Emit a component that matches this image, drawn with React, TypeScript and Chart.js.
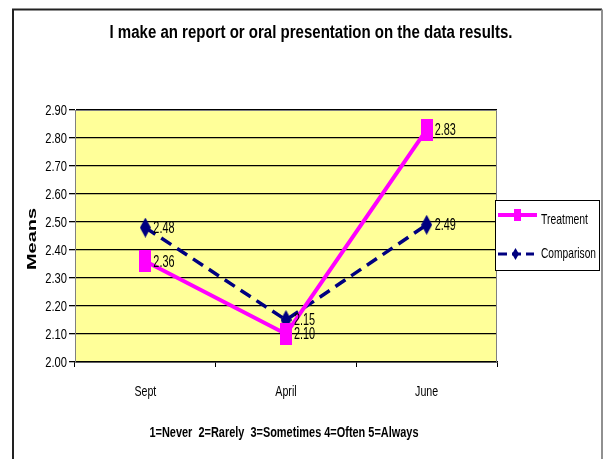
import React, { useEffect, useRef } from "react";
import { Chart, registerables } from "chart.js";
Chart.register(...registerables);

const categories = ["Sept", "April", "June"];
const treatment = [2.36, 2.1, 2.83];
const comparison = [2.48, 2.15, 2.49];
const yTickValues = [2.0, 2.1, 2.2, 2.3, 2.4, 2.5, 2.6, 2.7, 2.8, 2.9];
const seriesNames = ["Treatment", "Comparison"];
const titleText = "I make an report or oral presentation on the data results.";
const yTitle = "Means";
const xTitle = "1=Never  2=Rarely  3=Sometimes 4=Often 5=Always";

const FONT = '"Liberation Sans", Arial, sans-serif';
const MAGENTA = "#FF00FF";
const NAVY = "#000080";

function makeRect(w: number, h: number, color: string) {
  const c = document.createElement("canvas");
  c.width = w;
  c.height = h;
  const g = c.getContext("2d")!;
  g.fillStyle = color;
  g.fillRect(0, 0, w, h);
  return c;
}
function makeDiamond(w: number, h: number, color: string) {
  const c = document.createElement("canvas");
  c.width = w;
  c.height = h;
  const g = c.getContext("2d")!;
  g.fillStyle = color;
  g.beginPath();
  g.moveTo(w / 2, 0);
  g.lineTo(w, h / 2);
  g.lineTo(w / 2, h);
  g.lineTo(0, h / 2);
  g.closePath();
  g.fill();
  return c;
}

function narrowText(
  ctx: CanvasRenderingContext2D,
  text: string,
  x: number,
  y: number,
  font: string,
  align: CanvasTextAlign,
  sx: number,
  targetWidth?: number
) {
  ctx.save();
  ctx.font = font;
  ctx.textAlign = align;
  ctx.textBaseline = "middle";
  ctx.fillStyle = "#000";
  let s = sx;
  if (targetWidth) s = targetWidth / ctx.measureText(text).width;
  ctx.translate(x, y);
  ctx.scale(s, 1);
  ctx.fillText(text, 0, 0);
  ctx.restore();
}

export default function App() {
  const ref = useRef<HTMLCanvasElement>(null);
  useEffect(() => {
    const sq = makeRect(12, 22, MAGENTA);
    const dm = makeDiamond(11, 20, NAVY);
    const sqL = makeRect(7, 12, MAGENTA);
    const dmL = makeDiamond(7, 12, NAVY);

    const deco = {
      id: "deco",
      beforeDraw(chart: any) {
        const { ctx, chartArea: a } = chart;
        ctx.save();
        ctx.fillStyle = "#ffffff";
        ctx.fillRect(0, 0, chart.width, chart.height);
        ctx.strokeStyle = "#222222";
        ctx.lineWidth = 2;
        ctx.beginPath();
        ctx.moveTo(13, 470);
        ctx.lineTo(13, 9.5);
        ctx.lineTo(602, 9.5);
        ctx.stroke();
        ctx.strokeStyle = "#909090";
        ctx.beginPath();
        ctx.moveTo(602, 9.5);
        ctx.lineTo(602, 470);
        ctx.stroke();
        ctx.fillStyle = "#FFFF99";
        ctx.fillRect(a.left, a.top, a.right - a.left, a.bottom - a.top);
        ctx.restore();
      },
      afterDatasetsDraw(chart: any) {
        const { ctx, chartArea: a } = chart;
        const xs = chart.scales.x;
        const ys = chart.scales.y;
        ctx.save();
        // data labels
        chart.data.datasets.forEach((ds: any, i: number) => {
          const meta = chart.getDatasetMeta(i);
          meta.data.forEach((pt: any, j: number) => {
            narrowText(ctx, Number(ds.data[j]).toFixed(2), pt.x + 8, pt.y + 1, `16px ${FONT}`, "left", 0.68);
          });
        });
        // plot border
        ctx.strokeStyle = "#808080";
        ctx.lineWidth = 1;
        ctx.beginPath();
        ctx.moveTo(a.left + 0.5, a.bottom);
        ctx.lineTo(a.left + 0.5, a.top + 0.5);
        ctx.lineTo(a.right - 0.5, a.top + 0.5);
        ctx.lineTo(a.right - 0.5, a.bottom);
        ctx.stroke();
        // tick labels
        yTickValues.forEach((v) => {
          narrowText(ctx, v.toFixed(2), a.left - 8, ys.getPixelForValue(v) + 1, `14.5px ${FONT}`, "right", 0.77);
        });
        categories.forEach((c, i) => {
          narrowText(ctx, c, xs.getPixelForValue(i), 392, `15px ${FONT}`, "center", 0.71);
        });
        // titles
        narrowText(ctx, titleText, 311, 33, `bold 18px ${FONT}`, "center", 1, 403);
        narrowText(ctx, xTitle, 284, 433, `bold 15px ${FONT}`, "center", 1, 269);
        ctx.save();
        ctx.translate(33, 239);
        ctx.rotate(-Math.PI / 2);
        ctx.scale(1, 0.6);
        ctx.font = `bold 20px ${FONT}`;
        ctx.textAlign = "center";
        ctx.textBaseline = "middle";
        ctx.fillStyle = "#000";
        ctx.fillText(yTitle, 0, 0);
        ctx.restore();
        // legend
        ctx.fillStyle = "#fff";
        ctx.fillRect(495, 200, 104, 70);
        ctx.strokeStyle = "#000";
        ctx.lineWidth = 1;
        ctx.strokeRect(495.5, 200.5, 104, 70);
        ctx.strokeStyle = MAGENTA;
        ctx.lineWidth = 4;
        ctx.beginPath();
        ctx.moveTo(498, 215);
        ctx.lineTo(537, 215);
        ctx.stroke();
        ctx.drawImage(sqL, 514, 209);
        ctx.strokeStyle = NAVY;
        ctx.lineWidth = 3;
        ctx.setLineDash([9, 5]);
        ctx.beginPath();
        ctx.moveTo(498, 254);
        ctx.lineTo(534, 254);
        ctx.stroke();
        ctx.setLineDash([]);
        ctx.drawImage(dmL, 512, 248);
        narrowText(ctx, seriesNames[0], 541, 220, `15px ${FONT}`, "left", 1, 47);
        narrowText(ctx, seriesNames[1], 541, 254, `15px ${FONT}`, "left", 1, 55);
        ctx.restore();
      },
    };

    const chart = new Chart(ref.current!, {
      type: "line",
      data: {
        labels: categories,
        datasets: [
          {
            label: seriesNames[0],
            data: treatment,
            borderColor: MAGENTA,
            backgroundColor: MAGENTA,
            borderWidth: 4,
            pointStyle: sq as any,
            tension: 0,
          },
          {
            label: seriesNames[1],
            data: comparison,
            borderColor: NAVY,
            backgroundColor: NAVY,
            borderWidth: 3.5,
            borderDash: [12, 7],
            pointStyle: dm as any,
            tension: 0,
          },
        ],
      },
      options: {
        responsive: false,
        animation: false,
        devicePixelRatio: 1,
        layout: { padding: { left: 30, right: 106, top: 110, bottom: 67 } },
        plugins: {
          legend: { display: false },
          title: { display: false },
          tooltip: { enabled: false },
        },
        scales: {
          x: {
            offset: true,
            afterFit: (s: any) => {
              s.height = 30;
            },
            grid: {
              offset: true,
              drawOnChartArea: false,
              tickLength: 5,
              color: "#000",
            },
            border: { color: "#000", width: 1.5 },
            ticks: { display: false },
          },
          y: {
            min: 2,
            max: 2.9,
            afterFit: (s: any) => {
              s.width = 45;
            },
            grid: { color: "#000", lineWidth: 1.3, tickLength: 6 },
            border: { color: "#808080", width: 1 },
            ticks: { display: false, stepSize: 0.1 },
          },
        },
      },
      plugins: [deco],
    });
    return () => chart.destroy();
  }, []);
  return (
    <div style={{ position: "fixed", left: 0, top: 0, width: 603, height: 459 }}>
      <canvas ref={ref} width={603} height={459} style={{ width: 603, height: 459, display: "block" }} />
    </div>
  );
}
